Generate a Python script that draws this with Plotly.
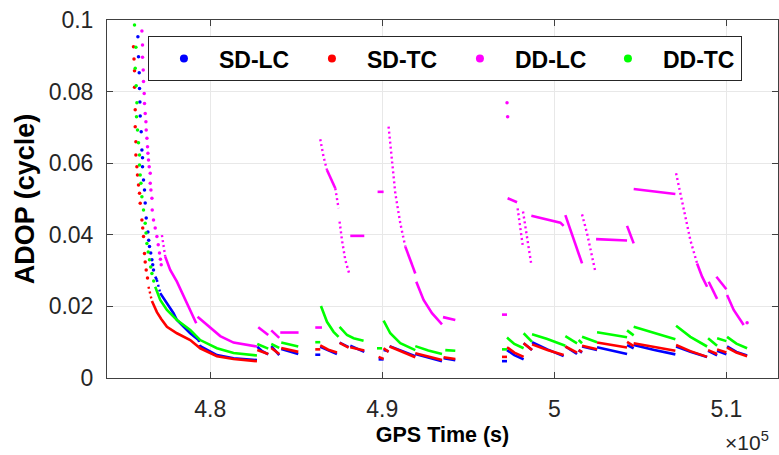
import plotly.graph_objects as go

# axes (GPS time in s, ADOP in cycles)
x_range = [474000, 513000]
y_range = [0, 0.1]
x_tickvals = [480000, 490000, 500000, 510000]
x_ticktext = ["4.8", "4.9", "5", "5.1"]
y_tickvals = [0, 0.02, 0.04, 0.06, 0.08, 0.1]
y_ticktext = ["0", "0.02", "0.04", "0.06", "0.08", "0.1"]

series_names = ["SD-LC", "SD-TC", "DD-LC", "DD-TC"]
series_colors = ["#0000ff", "#ff0000", "#ff00ff", "#00ff00"]

# ---- SD-LC ----
sd_lc_dot_t = [475796, 475831, 475872, 475890, 475913, 475930, 475988, 476029, 476064, 476064,
               476122, 476180, 476221, 476279, 476378, 476424, 476471, 476541, 476610, 476657, 476703]
sd_lc_dot_v = [0.0953, 0.0897, 0.0853, 0.0809, 0.0771, 0.0732, 0.0688, 0.0637, 0.0615, 0.0590,
               0.0553, 0.0525, 0.0489, 0.0447, 0.0408, 0.0385, 0.0367, 0.0349, 0.0330, 0.0316, 0.0302]
sd_lc_t = [
    [476802, 476901, 477093, 477483, 477866, 478064, 478645, 478837, 479320, 479419, 480390, 481355, 482715],
    [482733, 483023, 483372], [483547, 484012], [484128, 484651, 485116], [486105, 486395],
    [486395, 486861, 487366], [487518, 488041], [488140, 488547, 488954],
    [489785, 490076], [490076, 490366], [490425, 491047, 491919], [491919, 492675, 493471], [493564, 494244],
    [496959, 497250], [497250, 497675, 498215], [498215, 498704], [498704, 499593, 500541],
    [500640, 501320], [501413, 501611], [501611, 502483], [502483, 503314, 504227], [504227, 504611],
    [504611, 505814, 507035], [507076, 507907, 508878], [508936, 509460], [509460, 510000],
    [510040, 510582, 511204],
]
sd_lc_v = [
    [0.0283, 0.0274, 0.0237, 0.0209, 0.0181, 0.0162, 0.0134, 0.0125, 0.0106, 0.0089, 0.0064, 0.0055, 0.0050],
    [0.0087, 0.0075, 0.0066], [0.0089, 0.0064], [0.0081, 0.0073, 0.0067], [0.0065, 0.0065],
    [0.0087, 0.0077, 0.0067], [0.0099, 0.0086], [0.0090, 0.0081, 0.0073],
    [0.0052, 0.0052], [0.0078, 0.0075], [0.0089, 0.0077, 0.0061], [0.0067, 0.0057, 0.0047], [0.0055, 0.0050],
    [0.0047, 0.0047], [0.0078, 0.0064, 0.0052], [0.0097, 0.0078], [0.0100, 0.0080, 0.0061],
    [0.0088, 0.0067], [0.0078, 0.0071], [0.0088, 0.0078], [0.0086, 0.0076, 0.0067], [0.0092, 0.0083],
    [0.0092, 0.0078, 0.0066], [0.0088, 0.0073, 0.0059], [0.0076, 0.0063], [0.0076, 0.0066],
    [0.0088, 0.0073, 0.0063],
]

# ---- SD-TC ----
sd_tc_dot_t = [475541, 475570, 475599, 475599, 475640, 475640, 475680, 475680, 475738, 475773, 475831,
               475890, 475930, 476029, 476076, 476122, 476180, 476221, 476279, 476355]
sd_tc_dot_v = [0.0925, 0.0891, 0.0858, 0.0812, 0.0749, 0.0702, 0.0660, 0.0623, 0.0590, 0.0567, 0.0539,
               0.0516, 0.0488, 0.0441, 0.0419, 0.0395, 0.0348, 0.0324, 0.0302, 0.0279]
sd_tc_t = [
    [476413, 476610, 476901, 477151, 477483, 478064, 478837, 479419, 480390, 481355, 482715],
    [482733, 483372], [483547, 484012], [484128, 485116], [486105, 486395],
    [486395, 486861, 487366], [487518, 488041], [488140, 488547, 488954],
    [489785, 490076], [490076, 490366], [490425, 491047, 491919], [491919, 492675, 493471], [493564, 494244],
    [496959, 497250], [497250, 497675, 498215], [498215, 498704], [498704, 499593, 500541],
    [500640, 501320], [501413, 501611], [501611, 502483], [502483, 504227], [504227, 504611],
    [504611, 505814, 507035], [507076, 507907, 508878], [508936, 509460], [509460, 510000],
    [510040, 510582, 511204],
]
sd_tc_v = [
    [0.0255, 0.0215, 0.0184, 0.0165, 0.0143, 0.0125, 0.0106, 0.0083, 0.0061, 0.0053, 0.0047],
    [0.0078, 0.0067], [0.0084, 0.0067], [0.0084, 0.0073], [0.0080, 0.0080],
    [0.0091, 0.0079, 0.0071], [0.0098, 0.0085], [0.0086, 0.0081, 0.0077],
    [0.0059, 0.0053], [0.0083, 0.0073], [0.0088, 0.0075, 0.0058], [0.0069, 0.0059, 0.0050], [0.0058, 0.0053],
    [0.0059, 0.0059], [0.0086, 0.0071, 0.0059], [0.0097, 0.0078], [0.0094, 0.0078, 0.0064],
    [0.0088, 0.0071], [0.0078, 0.0073], [0.0090, 0.0080], [0.0099, 0.0085], [0.0101, 0.0089],
    [0.0097, 0.0087, 0.0076], [0.0092, 0.0075, 0.0059], [0.0078, 0.0067], [0.0080, 0.0071],
    [0.0085, 0.0071, 0.0061],
]

# ---- DD-LC ----
dd_lc_dot_t = [476029, 476064, 476064, 476105, 476122, 476163, 476180, 476221, 476262, 476279, 476320,
               476355, 476378, 476413, 476453, 476512, 476512, 476552, 476610, 476628, 476703, 476802,
               476901, 476977, 477052, 477105, 477151, 497250, 497285, 511204]
dd_lc_dot_v = [0.0969, 0.0930, 0.0896, 0.0860, 0.0828, 0.0795, 0.0767, 0.0739, 0.0716, 0.0693, 0.0670,
               0.0646, 0.0628, 0.0609, 0.0590, 0.0572, 0.0544, 0.0525, 0.0502, 0.0469, 0.0441, 0.0419,
               0.0395, 0.0372, 0.0349, 0.0332, 0.0316, 0.0769, 0.0730, 0.0154]
dd_lc_t = [
    [477192, 477384, 477674, 478064, 478546, 479029, 479186],
    [479262, 480000, 480581, 481355, 482715],
    [482791, 483372], [483547, 484012], [484070, 485134], [486105, 486494],
    [486395, 486587, 486785, 487076, 487268, 487366, 487459],
    [487518, 487657, 487849, 488099], [488140, 488954], [489727, 490076],
    [490366, 490465, 490564, 490756, 491047, 491337, 491919],
    [491977, 492401, 492889, 493471], [493529, 494244],
    [496959, 497250], [497285, 497832], [497866, 498157], [498180, 498646],
    [498663, 500349, 500541], [500640, 501611], [501611, 501901, 502384],
    [502425, 504227], [504227, 504611], [504611, 507035],
    [507076, 507326, 507617, 507907, 508297, 508588, 508878],
    [508971, 509460], [509419, 510000], [510040, 510425, 511006],
]
dd_lc_v = [
    [0.0399, 0.0339, 0.0302, 0.0269, 0.0218, 0.0171, 0.0153],
    [0.0171, 0.0140, 0.0117, 0.0099, 0.0088],
    [0.0142, 0.0120], [0.0133, 0.0112], [0.0127, 0.0127], [0.0141, 0.0141],
    [0.0667, 0.0618, 0.0581, 0.0553, 0.0530, 0.0506, 0.0474],
    [0.0437, 0.0385, 0.0330, 0.0288], [0.0397, 0.0397], [0.0520, 0.0520],
    [0.0702, 0.0656, 0.0590, 0.0516, 0.0432, 0.0367, 0.0292],
    [0.0269, 0.0218, 0.0181, 0.0150], [0.0170, 0.0162],
    [0.0177, 0.0177], [0.0502, 0.0491], [0.0474, 0.0372], [0.0465, 0.0322],
    [0.0453, 0.0434, 0.0425], [0.0455, 0.0320], [0.0457, 0.0404, 0.0297],
    [0.0388, 0.0384], [0.0425, 0.0376], [0.0528, 0.0514],
    [0.0572, 0.0516, 0.0451, 0.0385, 0.0320, 0.0283, 0.0255],
    [0.0269, 0.0221], [0.0283, 0.0248], [0.0232, 0.0190, 0.0148],
]

# ---- DD-TC ----
dd_tc_dot_t = [475599, 475680, 475640, 475698, 475738, 475715, 475773, 475831, 475890, 475890, 475930,
               475971, 476029, 476122, 476221, 476267, 476320, 476395, 476471, 476541, 476610, 476715]
dd_tc_dot_v = [0.0986, 0.0924, 0.0865, 0.0816, 0.0769, 0.0730, 0.0693, 0.0657, 0.0623, 0.0595, 0.0567,
               0.0544, 0.0506, 0.0469, 0.0432, 0.0405, 0.0376, 0.0352, 0.0330, 0.0310, 0.0292, 0.0271]
dd_tc_t = [
    [476802, 477093, 477483, 478064, 478837, 479419, 480390, 481355, 482715],
    [482733, 483372], [483547, 484012], [484128, 485116], [486105, 486395],
    [486436, 486785, 487169, 487459], [487518, 487948, 488332, 488913],
    [489692, 489983], [490076, 490465, 491047, 491919], [491919, 492675, 493471], [493663, 494244],
    [496959, 497250], [497250, 497675, 498215], [498215, 498704], [498704, 499593, 500640],
    [500640, 501320], [501413, 501611], [501611, 502483], [502483, 504227], [504227, 504611],
    [504611, 505814, 507035], [507076, 507907, 508878], [508936, 509460], [509460, 510000],
    [510040, 510582, 511204],
]
dd_tc_v = [
    [0.0255, 0.0218, 0.0190, 0.0162, 0.0134, 0.0106, 0.0083, 0.0070, 0.0063],
    [0.0095, 0.0082], [0.0095, 0.0084], [0.0099, 0.0088], [0.0100, 0.0100],
    [0.0201, 0.0157, 0.0129, 0.0115], [0.0143, 0.0120, 0.0111, 0.0104],
    [0.0083, 0.0083], [0.0160, 0.0125, 0.0097, 0.0078], [0.0089, 0.0077, 0.0067], [0.0078, 0.0076],
    [0.0080, 0.0080], [0.0113, 0.0095, 0.0083], [0.0125, 0.0101], [0.0122, 0.0109, 0.0090],
    [0.0117, 0.0097], [0.0106, 0.0097], [0.0115, 0.0100], [0.0128, 0.0114], [0.0133, 0.0119],
    [0.0143, 0.0126, 0.0108], [0.0146, 0.0115, 0.0088], [0.0111, 0.0090], [0.0111, 0.0103],
    [0.0115, 0.0096, 0.0083],
]

all_dots = [(sd_lc_dot_t, sd_lc_dot_v), (sd_tc_dot_t, sd_tc_dot_v),
            (dd_lc_dot_t, dd_lc_dot_v), (dd_tc_dot_t, dd_tc_dot_v)]
all_segs = [(sd_lc_t, sd_lc_v), (sd_tc_t, sd_tc_v), (dd_lc_t, dd_lc_v), (dd_tc_t, dd_tc_v)]

W, H = 779, 455
M_L, M_R, M_T, M_B = 107, 1, 20, 77
PLOT_W = W - M_L - M_R
PLOT_H = H - M_T - M_B
FONT = "Liberation Sans, Arial, sans-serif"


def split_runs(seg_t, seg_v):
    # steep stretches look dotted in the original (sparse epochs), flat ones solid
    sx = PLOT_W / (x_range[1] - x_range[0])
    sy = PLOT_H / (y_range[1] - y_range[0])
    out = {"solid": ([], []), "dot": ([], [])}
    for ts, vs in zip(seg_t, seg_v):
        kind, rt, rv = None, [], []
        for i in range(len(ts) - 1):
            dx = abs(ts[i + 1] - ts[i]) * sx
            dy = abs(vs[i + 1] - vs[i]) * sy
            k = "dot" if dy > 3 * dx else "solid"
            if k != kind:
                if kind:
                    out[kind][0].extend(rt + [None])
                    out[kind][1].extend(rv + [None])
                kind, rt, rv = k, [ts[i]], [vs[i]]
            rt.append(ts[i + 1])
            rv.append(vs[i + 1])
        if kind:
            out[kind][0].extend(rt + [None])
            out[kind][1].extend(rv + [None])
    return out


fig = go.Figure()

for name, color, (dt, dv), (st, sv) in zip(series_names, series_colors, all_dots, all_segs):
    runs = split_runs(st, sv)
    fig.add_trace(go.Scatter(x=runs["solid"][0], y=runs["solid"][1], mode="lines",
                             line=dict(color=color, width=2.6), showlegend=False,
                             hoverinfo="skip"))
    fig.add_trace(go.Scatter(x=runs["dot"][0], y=runs["dot"][1], mode="lines",
                             line=dict(color=color, width=2.4, dash="2px,3px"),
                             showlegend=False, hoverinfo="skip"))
    fig.add_trace(go.Scatter(x=dt, y=dv, mode="markers",
                             marker=dict(color=color, size=3.5, line=dict(width=0)),
                             showlegend=False, hoverinfo="skip"))
    # legend entry
    fig.add_trace(go.Scatter(x=[None], y=[None], mode="markers", name=f"<b>{name}</b>",
                             marker=dict(color=color, size=8)))

axis_common = dict(
    showgrid=True, gridcolor="#e8e8e8", gridwidth=1,
    showline=True, linecolor="#404040", linewidth=1, mirror="ticks",
    ticks="inside", ticklen=6, tickcolor="#404040",
    tickfont=dict(family=FONT, size=23, color="#262626"),
    zeroline=False, tickmode="array",
)

fig.update_layout(
    width=W, height=H,
    margin=dict(l=M_L, r=M_R, t=M_T, b=M_B, autoexpand=False),
    paper_bgcolor="white", plot_bgcolor="white",
    font=dict(family=FONT, color="black"),
    xaxis=dict(axis_common, range=x_range, tickvals=x_tickvals, ticktext=x_ticktext,
               ticklabelstandoff=10,
               title=dict(text="<b>GPS Time (s)</b>", standoff=6,
                          font=dict(family=FONT, size=21.5, color="black"))),
    yaxis=dict(axis_common, range=y_range, tickvals=y_tickvals, ticktext=y_ticktext,
               ticklabelstandoff=8,
               title=dict(text="<b>ADOP (cycle)</b>", standoff=6,
                          font=dict(family=FONT, size=27, color="black"))),
    legend=dict(orientation="h", x=0.061, y=0.955, xanchor="left", yanchor="top",
                bgcolor="white", bordercolor="#262626", borderwidth=1,
                font=dict(family=FONT, size=23, color="black"),
                entrywidth=73, entrywidthmode="pixels", itemwidth=60,
                tracegroupgap=0),
    annotations=[dict(text="\u00d710<sup>5</sup>", xref="paper", yref="paper", x=0.99, y=-0.175,
                      xanchor="right", yanchor="middle", showarrow=False,
                      font=dict(family=FONT, size=21, color="#262626"))],
)

# the page body has a default 8px margin; drop it so the figure sits at the top-left corner
fig.write_html("out.html", config={"displayModeBar": False},
               post_script="document.body.style.margin='0px';")
